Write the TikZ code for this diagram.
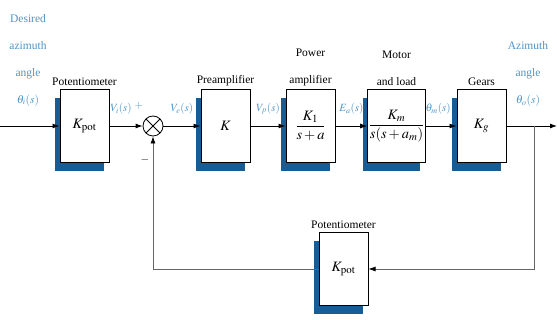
\documentclass[tikz,border=0pt]{standalone}
\usepackage{mathptmx}
\usepackage{fontspec}
\setmainfont{Liberation Serif}
\usepackage{tikz}
\usetikzlibrary{arrows.meta,positioning,calc,shadows}
\definecolor{shblue}{RGB}{24,92,150}
\definecolor{lblblue}{RGB}{78,148,198}

\begin{document}
\begin{tikzpicture}[x=1pt,y=-1pt,
  blk/.style={draw,fill=white,line width=1pt,minimum width=49pt,minimum height=73pt,inner sep=1pt,font=\Large,
    drop shadow={shadow xshift=-5pt,shadow yshift=-9pt,fill=shblue,opacity=1}},
  sm/.style={draw,circle,line width=0.8pt,minimum size=20pt,inner sep=0pt,
    path picture={\draw[line width=0.8pt] (path picture bounding box.north west)--(path picture bounding box.south east)
      (path picture bounding box.north east)--(path picture bounding box.south west);}},
  ttl/.style={font=\fontsize{11.5}{27}\selectfont,align=center,inner sep=1pt},
  sig/.style={font=\fontsize{11}{13}\selectfont,text=lblblue,inner sep=1pt},
  ln/.style={line width=0.9pt,-{Latex[length=7pt,width=5pt]}},
  fb/.style={draw=gray!80!black,line width=0.7pt,-{Latex[length=7pt,width=5pt,color=black]}}
]
\useasboundingbox (0,0) rectangle (557,320);
\node[blk] (pot1) at (84.5,126) {$K_{\mathrm{pot}}$};
\node[sm]  (sum)  at (153,126) {};
\node[blk] (pre)  at (225.5,126) {$K$};
\node[blk] (pwr)  at (310.5,126) {$\displaystyle\frac{K_1}{s+a}$};
\node[blk] (mot)  at (396.5,126) {$\displaystyle\frac{K_m}{s(s+a_m)}$};
\node[blk] (gear) at (481.5,126) {$K_g$};
\node[blk] (pot2) at (343.5,269) {$K_{\mathrm{pot}}$};
\coordinate (in)  at (0,126);
\coordinate (tap) at (534,126);
\coordinate (out) at (557,126);

\node[ttl,above=2pt of pot1] {Potentiometer};
\node[ttl,above=2pt of pre]  {Preamplifier};
\node[ttl,above=2pt of pwr]  {Power\\amplifier};
\node[ttl,above=2pt of mot]  {Motor\\and load};
\node[ttl,above=2pt of gear] {Gears};
\node[ttl,above=2pt of pot2] {Potentiometer};
\node[ttl,text=lblblue] (des) at (28,60) {Desired\\azimuth\\angle\\$\theta_i(s)$};
\node[ttl,text=lblblue] (azi) at (528,74) {Azimuth\\angle\\$\theta_o(s)$};

\draw[ln] (in) -- (pot1);
\draw[ln] (pot1) -- node[sig,above=10pt,xshift=-5pt]{$V_i(s)$} (sum);
\draw[ln] (sum) -- node[sig,above=10pt]{$V_e(s)$} (pre);
\draw[ln] (pre) -- node[sig,above=10pt]{$V_p(s)$} (pwr);
\draw[ln] (pwr) -- node[sig,above=10pt]{$E_a(s)$} (mot);
\draw[ln] (mot) -- node[sig,above=10pt,xshift=-3pt]{$\theta_m(s)$} (gear);
\draw[ln] (gear) -- (out);
\node[sig] (plus) at (139,106) {$+$};
\node[sig,text=black] (minus) at (145,160) {$-$};
\draw[fb] (tap) |- (pot2);
\draw[fb] (pot2) -| (sum);
\end{tikzpicture}
\end{document}
